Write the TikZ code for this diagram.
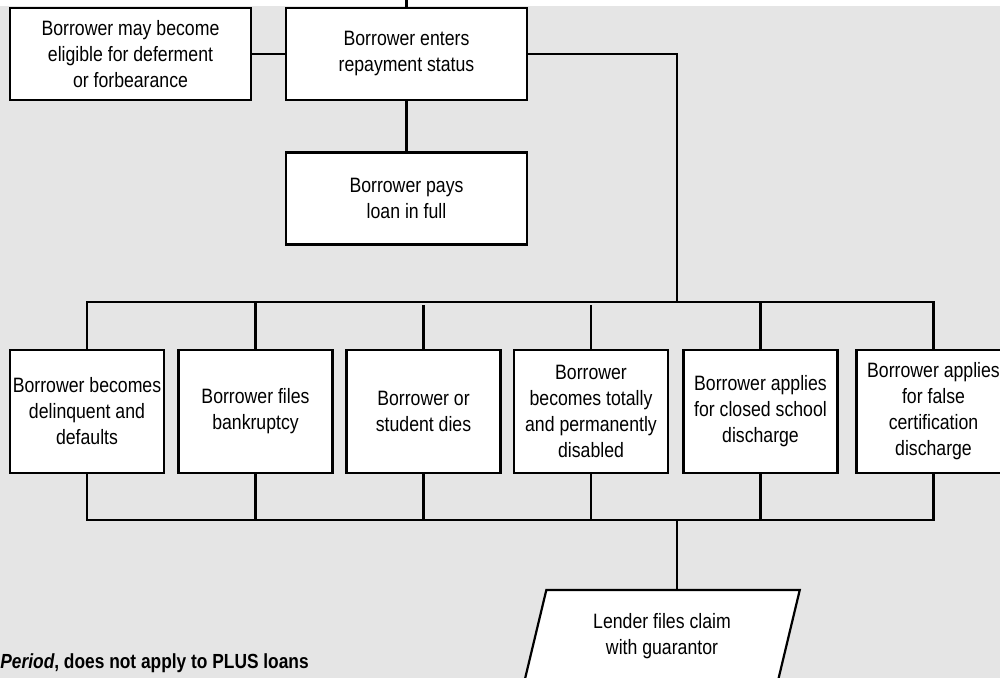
\documentclass[tikz,border=0pt]{standalone}
\usepackage{fontspec}
\setmainfont{Liberation Sans}[FakeStretch=0.85]
\usetikzlibrary{positioning,shapes.geometric}
\definecolor{panelgray}{HTML}{E5E5E5}
\tikzset{
  stepbox/.style={draw, fill=white, line width=1.1pt, align=center, inner xsep=1pt,
    minimum width=120.5pt, minimum height=46pt, font=\fontsize{10.4}{13}\selectfont},
  outcome/.style={stepbox, minimum width=77pt, minimum height=61.5pt},
  claimbox/.style={stepbox, trapezium, trapezium left angle=69.4, trapezium right angle=110.6,
    trapezium stretches body, minimum width=137.75pt},
  link/.style={line width=1.1pt, line cap=rect}
}

\begin{document}
\begin{tikzpicture}[x=0.5pt,y=-0.5pt]
  \clip (0,0) rectangle (1000,678);
  \fill[panelgray] (0,6) rectangle (1000,678);
  % upper part
  \node[stepbox] (defer) at (130.5,54) {Borrower may become\\eligible for deferment\\or forbearance};
  \node[stepbox] (enter) at (406.5,54) {Borrower enters\\repayment status};
  \node[stepbox] (payoff) at (406.5,198.5) {Borrower pays\\loan in full};
  \coordinate (start) at (406.5,0);
  \coordinate (topbus) at (677,302); % bus above the six cases
  \coordinate (botbus) at (677,520); % bus below the six cases
  % the six cases
  \foreach \name/\x/\txt in {
      delinq/87/{Borrower becomes\\delinquent and\\defaults},
      bankr/255.5/{Borrower files\\bankruptcy},
      death/423.5/{Borrower or\\student dies},
      disab/591/{Borrower\\becomes totally\\and permanently\\disabled},
      closed/760.5/{Borrower applies\\for closed school\\discharge},
      falsec/933.5/{Borrower applies\\for false\\certification\\discharge}} {
    \node[outcome] (\name) at (\x,411.5) {\txt};
  }
  \node[claimbox] (claim) at (662,636) {Lender files claim\\with guarantor};
  \node[anchor=west, inner sep=0pt, font=\bfseries\fontsize{10.2}{13}\selectfont] (note) at (0,663)
    {\textit{Period}, does not apply to PLUS loans};
  % connectors
  \draw[link] (start) -- (enter.north);
  \draw[link] (defer) -- (enter);
  \draw[link] (enter) -- (payoff);
  \draw[link] (enter.east) -| (topbus);
  \draw[link] (delinq.north |- topbus) -- (falsec.north |- topbus);
  \foreach \name in {delinq,bankr,closed,falsec} {
    \draw[link] (\name.north) -- (\name.north |- topbus);
  }
  \foreach \name in {death,disab} {
    \draw[link] (\name.north) -- ++(0,-43);
  }
  \foreach \name in {delinq,bankr,death,disab,closed,falsec} {
    \draw[link] (\name.south) -- (\name.south |- botbus);
  }
  \draw[link] (delinq.south |- botbus) -- (falsec.south |- botbus);
  \draw[link] (botbus) -- (botbus |- claim.north);
\end{tikzpicture}
\end{document}
